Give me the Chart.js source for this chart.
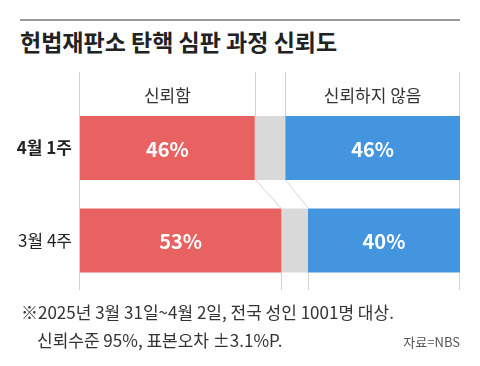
<!DOCTYPE html>
<html>
<head>
<meta charset="utf-8">
<script src="https://cdn.jsdelivr.net/npm/chart.js@4.4.1/dist/chart.umd.min.js"></script>
<style>
  body { margin: 0; background: #fff; font-family: 'Noto Sans CJK KR', sans-serif; }
  #wrap { position: relative; width: 480px; height: 366px; overflow: hidden; }
  #wrap canvas { position: absolute; left: 0; top: 0; }
  .rule { position: absolute; left: 20px; top: 19px; width: 440px; height: 2px; background: #999; }
  .title { position: absolute; left: 20px; top: 24px; font-size: 23px; font-weight: bold; color: #222; white-space: nowrap; }
  .note { position: absolute; font-size: 17px; color: #333; white-space: nowrap; }
  .src { position: absolute; right: 20px; top: 332px; font-size: 13px; color: #555; }
</style>
</head>
<body>
<div id="wrap">
  <div class="rule"></div>
  <div class="title">헌법재판소 탄핵 심판 과정 신뢰도</div>
  <canvas id="grafico" width="480" height="366"></canvas>
  <div class="note" style="left:21px;top:299px">※2025년 3월 31일~4월 2일, 전국 성인 1001명 대상.</div>
  <div class="note" style="left:37px;top:327px">신뢰수준 95%, 표본오차 ±3.1%P.</div>
  <div class="src">자료=NBS</div>
</div>
<script>
const categorias = ['4월 1주', '3월 4주'];
const series = ['신뢰함', '모름', '신뢰하지 않음'];
const confia = [46, 53];
const nose = [8, 7];
const noConfia = [46, 40];

const FONT = "'Noto Sans CJK KR', sans-serif";

// lineas guia y conectores entre barras
const guias = {
  id: 'guias',
  beforeDatasetsDraw(chart) {
    const { ctx, chartArea: a, scales: { x } } = chart;
    const top = 72, bottom = 290;
    const bars = chart.getDatasetMeta(0).data;
    const t0 = bars[0].y - bars[0].height / 2, b0 = bars[0].y + bars[0].height / 2;
    const t1 = bars[1].y - bars[1].height / 2, b1 = bars[1].y + bars[1].height / 2;
    const line = (x1, y1, x2, y2) => { ctx.beginPath(); ctx.moveTo(x1, y1); ctx.lineTo(x2, y2); ctx.stroke(); };

    ctx.save();
    ctx.strokeStyle = '#d2d2d2';
    ctx.lineWidth = 1;
    line(Math.round(a.left) - 0.5, top, Math.round(a.left) - 0.5, bottom);
    line(Math.round(a.right) - 0.5, top, Math.round(a.right) - 0.5, bottom);
    const cortes0 = [confia[0], confia[0] + nose[0]];
    const cortes1 = [confia[1], confia[1] + nose[1]];
    cortes0.forEach((v, i) => {
      const xa = Math.round(x.getPixelForValue(v)) + 0.5;
      const xb = Math.round(x.getPixelForValue(cortes1[i])) + 0.5;
      line(xa, top, xa, t0);
      line(xa, b0, xb, t1);
      line(xb, b1, xb, bottom);
    });
    ctx.restore();
  },
  afterDatasetsDraw(chart) {
    const { ctx } = chart;
    ctx.save();
    ctx.textAlign = 'center';
    ctx.textBaseline = 'middle';
    // encabezados
    ctx.fillStyle = '#333';
    ctx.font = '17px ' + FONT;
    [0, 2].forEach(d => {
      const el = chart.getDatasetMeta(d).data[0];
      ctx.fillText(series[d], (el.x + el.base) / 2, 96);
    });
    // valores
    ctx.fillStyle = '#fff';
    ctx.font = 'bold 20px ' + FONT;
    [0, 2].forEach(d => {
      chart.getDatasetMeta(d).data.forEach((el, i) => {
        ctx.fillText(chart.data.datasets[d].data[i] + '%', (el.x + el.base) / 2, el.y + 1);
      });
    });
    ctx.restore();
  }
};

new Chart(document.getElementById('grafico').getContext('2d'), {
  type: 'bar',
  data: {
    labels: categorias,
    datasets: [
      { label: series[0], data: confia, backgroundColor: '#e96262' },
      { label: series[1], data: nose, backgroundColor: '#d9d9d9' },
      { label: series[2], data: noConfia, backgroundColor: '#4495df' }
    ]
  },
  options: {
    indexAxis: 'y',
    responsive: false,
    animation: false,
    barPercentage: 0.69,
    categoryPercentage: 1,
    layout: { padding: { top: 101.75, bottom: 79.25, left: 0, right: 20 } },
    plugins: { legend: { display: false }, tooltip: { enabled: false } },
    scales: {
      x: { stacked: true, min: 0, max: 100, display: false },
      y: {
        stacked: true,
        grid: { display: false, drawTicks: false },
        border: { display: false },
        ticks: {
          padding: 8,
          color: '#222',
          font: c => ({ family: FONT, size: 17, weight: c.index === 0 ? 'bold' : 'normal' })
        },
        afterFit(s) { s.width = 80; }
      }
    }
  },
  plugins: [guias]
});
</script>
</body>
</html>
